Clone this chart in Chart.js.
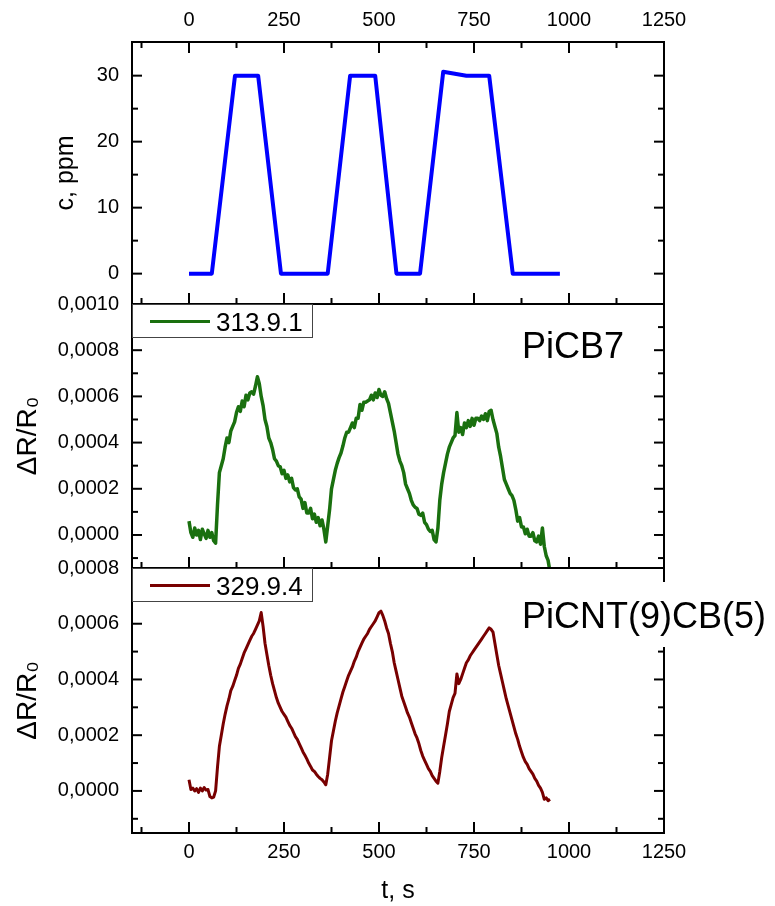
<!DOCTYPE html>
<html>
<head>
<meta charset="utf-8">
<script src="https://cdn.jsdelivr.net/npm/chart.js@4.4.1/dist/chart.umd.min.js"></script>
<style>
  html, body { margin: 0; padding: 0; background: #fff; }
  #wrap { position: relative; width: 775px; height: 906px; }
  #wrap canvas { position: absolute; left: 0; top: 0; }
</style>
</head>
<body>
<div id="wrap">
  <canvas id="concChart" width="775" height="906"></canvas>
  <canvas id="cb7Chart" width="775" height="906"></canvas>
  <canvas id="cntChart" width="775" height="906"></canvas>
</div>
<script>
// gas concentration program: time (s) and c (ppm)
const concTime = [0, 60, 121, 182, 242, 365, 424, 490, 546, 608, 669, 730, 790, 852, 976];
const concPpm  = [0, 0, 30, 30, 0, 0, 30, 30, 0, 0, 30.6, 30, 30, 0, 0];

// sensor responses dR/R0, in units of 1e-6, one sample every 5 s starting at t = 0
const sampleStep = 5;
const resp313 = [
  60, 10, -10, 30, 0, 20, -20, 25, 5, -15,
  20, -10, 10, -25, -35, 130, 270, 300, 330, 380,
  420, 400, 450, 470, 490, 530, 555, 535, 580, 555,
  605, 585, 615, 620, 610, 645, 685, 655, 600, 560,
  500, 470, 420, 400, 370, 330, 320, 300, 295, 265,
  280, 245, 260, 230, 245, 205, 195, 200, 165, 155,
  115, 140, 95, 95, 115, 70, 90, 55, 75, 40,
  65, 25, -30, 40, 110, 200, 240, 280, 310, 335,
  355, 385, 420, 445, 445, 465, 485, 465, 505, 505,
  565, 540, 575, 575, 580, 585, 605, 585, 615, 595,
  630, 605, 600, 620, 590, 570, 530, 490, 450, 400,
  350, 320, 300, 270, 220, 200, 180, 150, 130, 120,
  115, 90, 85, 95, 55, 45, 25, 15, 20, -20,
  -30, 30, 150, 220, 270, 310, 350, 380, 400, 420,
  430, 530, 445, 465, 435, 485, 465, 495, 470, 505,
  475, 505, 505, 495, 515, 500, 525, 495, 535, 540,
  500, 470, 440, 380, 340, 290, 240, 220, 200, 180,
  170, 150, 110, 60, 75, 35, 35, 5, 25, -5,
  -5, 10, -25, -30, -5, -40, 30, -50, -90, -110,
  -160
];
const resp329 = [
  40, 5, 10, 0, 8, -5, 10, 0, 12, 3,
  5, -20, -25, -22, 0, 85, 160, 200, 240, 275,
  305, 330, 360, 375, 395, 415, 440, 455, 475, 495,
  510, 525, 540, 555, 565, 580, 595, 610, 640, 590,
  530, 490, 450, 415, 385, 360, 335, 315, 300, 285,
  275, 265, 250, 235, 225, 210, 195, 185, 170, 155,
  140, 128, 115, 100, 88, 75, 70, 60, 52, 45,
  40, 32, 22, 60, 120, 180, 215, 250, 280, 305,
  330, 355, 375, 395, 415, 430, 445, 465, 480, 500,
  515, 530, 545, 555, 565, 580, 590, 600, 610, 625,
  640, 645, 630, 610, 585, 565, 530, 500, 460, 430,
  400, 370, 340, 320, 300, 280, 265, 245, 225, 205,
  190, 170, 145, 125, 110, 95, 80, 70, 55, 45,
  35, 28, 70, 120, 160, 200, 240, 285, 310, 335,
  350, 420, 385, 400, 420, 440, 460, 470, 485, 495,
  505, 515, 525, 535, 545, 555, 565, 575, 585, 580,
  570, 530, 490, 450, 420, 390, 360, 330, 305, 280,
  255, 230, 205, 185, 160, 140, 120, 105, 95, 80,
  70, 60, 45, 35, 20, 10, -5, -30, -25, -35,
  -30
];

// axis ticks
const timeTicks = [0, 250, 500, 750, 1000, 1250];
const timeMinor = [-125, 125, 375, 625, 875, 1125];
const concTicks = [0, 10, 20, 30];
const concMinor = [5, 15, 25];
const cb7Ticks = [0, 200, 400, 600, 800, 1000];
const cb7Minor = [-100, 100, 300, 500, 700, 900];
const cntTicks = [0, 200, 400, 600, 800];
const cntMinor = [-100, 100, 300, 500, 700];

Chart.defaults.font.family = '"Liberation Sans", Arial, sans-serif';
Chart.defaults.color = '#000';
Chart.defaults.animation = false;

const fixedTicks = values => scale => { scale.ticks = values.map(v => ({ value: v })); };
const ratioLabel = v => (v / 1e6).toFixed(4).replace('.', ',');
const toPoints = arr => arr.map((v, i) => ({ x: i * sampleStep, y: v }));

// frame, inward ticks, boxed legend and sample name for each panel
const panelDeco = {
  id: 'panelDeco',
  afterDatasetsDraw(chart, args, opts) {
    const { ctx, chartArea: a } = chart;
    const x = chart.scales.x, y = chart.scales.y;
    ctx.save();
    ctx.strokeStyle = '#000';
    ctx.lineWidth = 2;
    ctx.strokeRect(a.left, a.top, a.right - a.left, a.bottom - a.top);
    const seg = (x1, y1, x2, y2) => { ctx.beginPath(); ctx.moveTo(x1, y1); ctx.lineTo(x2, y2); ctx.stroke(); };
    [[timeTicks, 11], [timeMinor, 6]].forEach(([vals, len]) => vals.forEach(v => {
      const px = x.getPixelForValue(v);
      seg(px, a.bottom, px, a.bottom - len);
      if (opts.topTicks) seg(px, a.top, px, a.top + len);
    }));
    [[opts.yMajor, 10], [opts.yMinor, 6]].forEach(([vals, len]) => vals.forEach(v => {
      const py = y.getPixelForValue(v);
      seg(a.left, py, a.left + len, py);
      seg(a.right, py, a.right - len, py);
    }));

    if (opts.legend) {
      const ds = chart.data.datasets[0];
      ctx.fillStyle = '#fff';
      ctx.fillRect(a.left, a.top, 180, 33);
      ctx.strokeStyle = '#444';
      ctx.lineWidth = 1;
      ctx.strokeRect(a.left + 0.5, a.top + 0.5, 180, 33);
      ctx.strokeStyle = ds.borderColor;
      ctx.lineWidth = 3;
      seg(a.left + 18, a.top + 17.5, a.left + 78, a.top + 17.5);
      ctx.fillStyle = '#000';
      ctx.font = '26px "Liberation Sans", Arial, sans-serif';
      ctx.textBaseline = 'alphabetic';
      ctx.fillText(ds.label, a.left + 84, a.top + 26.5);
    }

    if (opts.note) {
      const n = opts.note;
      ctx.font = '36px "Liberation Sans", Arial, sans-serif';
      if (n.box) {
        ctx.fillStyle = '#fff';
        ctx.fillRect(n.x - 6, a.top + n.dy - 46, ctx.measureText(n.text).width + 14, 65);
      }
      ctx.fillStyle = '#000';
      ctx.textBaseline = 'alphabetic';
      ctx.fillText(n.text, n.x, a.top + n.dy);
    }
    ctx.restore();
  }
};

function timeAxis(where) {
  const ax = {
    type: 'linear', min: -150, max: 1250,
    display: where !== 'none',
    position: where === 'top' ? 'top' : 'bottom',
    afterBuildTicks: fixedTicks(timeTicks),
    grid: { display: false, drawTicks: false },
    border: { display: false },
    ticks: { font: { size: 20 }, padding: where === 'top' ? 10 : 7.5, autoSkip: false, maxRotation: 0, callback: v => String(v) }
  };
  if (where === 'top') ax.afterFit = s => { s.height = 42; };
  if (where === 'bottom') {
    ax.afterFit = s => { s.height = 73; };
    ax.title = { display: true, text: 't, s', font: { size: 25 }, padding: { top: 0, bottom: 0 } };
  }
  return ax;
}

function valueAxis(min, max, ticks, label, fmt, titleSize, titlePad) {
  return {
    type: 'linear', min: min, max: max, position: 'left',
    afterBuildTicks: fixedTicks(ticks),
    afterFit: s => { s.width = 132; },
    grid: { display: false, drawTicks: false },
    border: { display: false },
    ticks: { font: { size: 20 }, padding: 13, autoSkip: false, callback: fmt },
    title: { display: true, text: label, font: { size: titleSize }, padding: { top: titlePad, bottom: 0 } }
  };
}

const basePlugins = { legend: { display: false }, tooltip: { enabled: false } };

// top panel: concentration
new Chart(document.getElementById('concChart'), {
  type: 'line',
  data: {
    datasets: [{
      label: 'c',
      data: concTime.map((t, i) => ({ x: t, y: concPpm[i] })),
      borderColor: '#0000ff',
      borderWidth: 4,
      pointRadius: 0,
      tension: 0,
      borderJoinStyle: 'round'
    }]
  },
  options: {
    responsive: false,
    events: [],
    layout: { padding: { top: 0, left: 0, right: 111, bottom: 602 } },
    scales: {
      x: timeAxis('top'),
      y: valueAxis(-4.6, 35.1, concTicks, 'c, ppm', v => String(v), 25, 51)
    },
    plugins: Object.assign({}, basePlugins, {
      panelDeco: { topTicks: true, yMajor: concTicks, yMinor: concMinor }
    })
  },
  plugins: [panelDeco]
});

// middle panel: PiCB7
new Chart(document.getElementById('cb7Chart'), {
  type: 'line',
  data: {
    datasets: [{
      label: '313.9.1',
      data: toPoints(resp313),
      borderColor: '#1a700f',
      borderWidth: 3.5,
      pointRadius: 0,
      tension: 0,
      borderJoinStyle: 'round'
    }]
  },
  options: {
    responsive: false,
    events: [],
    layout: { padding: { top: 304, left: 0, right: 111, bottom: 338 } },
    scales: {
      x: timeAxis('none'),
      y: valueAxis(-143, 1000, cb7Ticks, 'ΔR/R₀', ratioLabel, 28, 11.7)
    },
    plugins: Object.assign({}, basePlugins, {
      panelDeco: { yMajor: cb7Ticks, yMinor: cb7Minor, legend: true, note: { text: 'PiCB7', x: 522, dy: 54, box: false } }
    })
  },
  plugins: [panelDeco]
});

// bottom panel: PiCNT(9)CB(5)
new Chart(document.getElementById('cntChart'), {
  type: 'line',
  data: {
    datasets: [{
      label: '329.9.4',
      data: toPoints(resp329),
      borderColor: '#780000',
      borderWidth: 3,
      pointRadius: 0,
      tension: 0,
      borderJoinStyle: 'round'
    }]
  },
  options: {
    responsive: false,
    events: [],
    layout: { padding: { top: 568, left: 0, right: 111, bottom: 0 } },
    scales: {
      x: timeAxis('bottom'),
      y: valueAxis(-151, 800, cntTicks, 'ΔR/R₀', ratioLabel, 28, 11.7)
    },
    plugins: Object.assign({}, basePlugins, {
      panelDeco: { yMajor: cntTicks, yMinor: cntMinor, legend: true, note: { text: 'PiCNT(9)CB(5)', x: 522, dy: 60, box: true } }
    })
  },
  plugins: [panelDeco]
});
</script>
</body>
</html>
